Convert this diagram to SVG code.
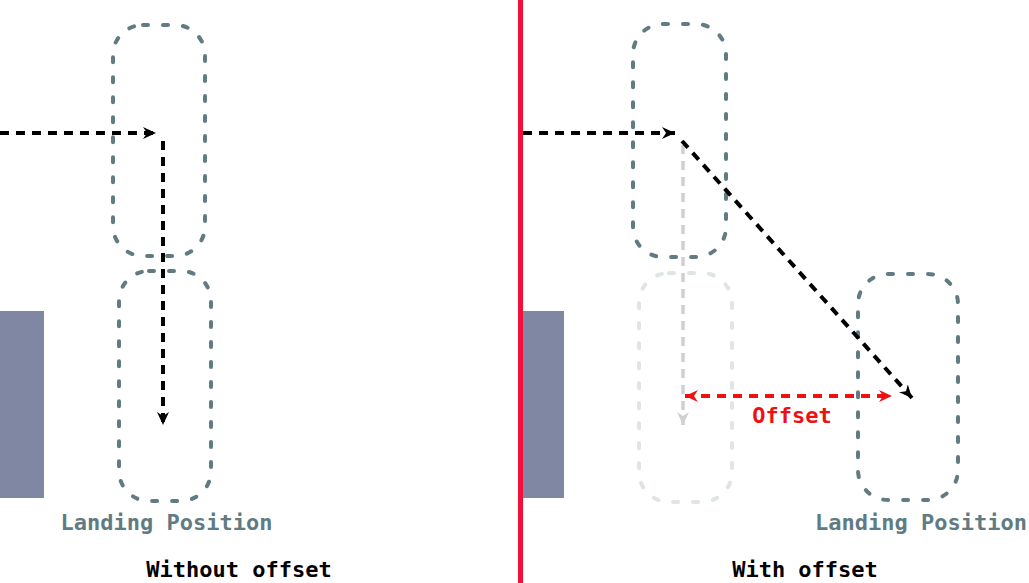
<svg xmlns="http://www.w3.org/2000/svg" width="1029" height="583" viewBox="0 0 1029 583">
<style>
.cap{fill:none;stroke:#607b82;stroke-width:4;stroke-dasharray:5 15;stroke-linecap:round}
.capf{fill:none;stroke:#dfe5e5;stroke-width:4;stroke-dasharray:5 15;stroke-linecap:round}
.arr{fill:none;stroke:#000;stroke-width:4;stroke-dasharray:9 7}
.arrf{fill:none;stroke:#d0d0d0;stroke-width:3.5;stroke-dasharray:9 7}
.arrr{fill:none;stroke:#ee1111;stroke-width:4;stroke-dasharray:9 7}
.wall{fill:#8087a3}
.t{font-family:"DejaVu Sans Mono","Liberation Mono",monospace;font-weight:bold;font-size:22px;text-anchor:middle}
.lp{fill:#607b82}
</style>
<defs>
<marker id="hb" markerUnits="userSpaceOnUse" markerWidth="14" markerHeight="12" refX="13" refY="6" orient="auto-start-reverse" viewBox="0 0 14 12"><path d="M0,0 L13,6 L0,12 L4,6 z" fill="#000"/></marker>
<marker id="hf" markerUnits="userSpaceOnUse" markerWidth="14" markerHeight="12" refX="13" refY="6" orient="auto-start-reverse" viewBox="0 0 14 12"><path d="M0,0 L13,6 L0,12 L4,6 z" fill="#d0d0d0"/></marker>
<marker id="hr" markerUnits="userSpaceOnUse" markerWidth="14" markerHeight="12" refX="13" refY="6" orient="auto-start-reverse" viewBox="0 0 14 12"><path d="M0,0 L13,6 L0,12 L4,6 z" fill="#ee1111"/></marker>
</defs>
<rect width="1029" height="583" fill="#fff"/>
<g id="left-panel">
<rect id="left-wall" class="wall" x="0" y="311" width="44" height="187"/>
<g id="left-start"><rect class="cap" x="113" y="25" width="92" height="231" rx="30"/></g>
<g id="left-landing"><rect class="cap" x="119" y="271" width="92" height="230" rx="30"/></g>
<text class="t lp" x="166.5" y="530">Landing Position</text>
<text class="t" x="239" y="577" fill="#000">Without offset</text>
</g>
<rect id="divider" x="518" y="0" width="5" height="583" fill="#f0103a"/>
<g id="right-panel">
<rect id="right-wall" class="wall" x="523" y="311" width="41" height="187"/>
<g id="right-start"><rect class="cap" x="633" y="24" width="93" height="233" rx="30"/></g>
<g id="right-ghost"><rect class="capf" x="639" y="273" width="93" height="229" rx="30"/></g>
<g id="right-landing"><rect class="cap" x="858" y="274" width="100" height="226" rx="30"/></g>
<text class="t lp" x="921" y="530">Landing Position</text>
<text class="t" x="805" y="577" fill="#000">With offset</text>
<text class="t" x="792" y="423" fill="#ee1111">Offset</text>
</g>
<g id="connectors">
<line class="arr" x1="0" y1="133" x2="156" y2="133" marker-end="url(#hb)"/>
<line class="arr" x1="163" y1="141" x2="163" y2="425" marker-end="url(#hb)"/>
<line class="arr" x1="523" y1="133" x2="675" y2="133" marker-end="url(#hb)"/>
<line class="arrf" x1="683" y1="145" x2="683" y2="425" marker-end="url(#hf)"/>
<line class="arr" x1="682" y1="141" x2="912" y2="398" marker-end="url(#hb)"/>
<line class="arrr" x1="685" y1="396" x2="892" y2="396" marker-start="url(#hr)" marker-end="url(#hr)"/>
</g>
</svg>
